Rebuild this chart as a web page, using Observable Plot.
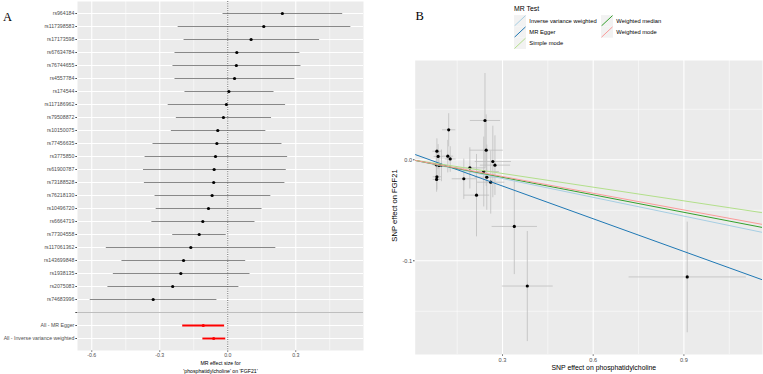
<!DOCTYPE html>
<html>
<head>
<meta charset="utf-8">
<script src="https://cdn.jsdelivr.net/npm/d3@7"></script>
<script src="https://cdn.jsdelivr.net/npm/@observablehq/plot@0.6"></script>
<style>
  html, body { margin: 0; padding: 0; background: #fff; overflow: hidden; }
  #wrap { position: relative; width: 763px; height: 374px; overflow: hidden; font-family: "Liberation Sans", Arial, sans-serif; }
  #wrap > * { position: absolute; top: 0; }
  .tag { font-family: "Liberation Serif", "Times New Roman", serif; font-size: 12.5px; color: #000; line-height: 1; }
</style>
</head>
<body>
<div id="wrap"></div>
<script>
// ---- single-SNP Wald ratio estimates (phosphatidylcholine -> FGF21) ----
const snpIds = [
  "rs964184", "rs117398583", "rs17173598", "rs67634784", "rs76744655", "rs4557784",
  "rs174544", "rs117186962", "rs79508872", "rs10150075", "rs77456635", "rs3775850",
  "rs61900787", "rs73188528", "rs76218130", "rs10496720", "rs6664719", "rs77304558",
  "rs117061362", "rs143699848", "rs1938135", "rs2075083", "rs74683996"
];
const snpBeta = [0.241, 0.159, 0.103, 0.040, 0.038, 0.030, 0.005, -0.006, -0.019, -0.044, -0.048, -0.054,
  -0.060, -0.062, -0.069, -0.085, -0.110, -0.126, -0.163, -0.195, -0.207, -0.243, -0.329];
const snpLo = [-0.023, -0.221, -0.195, -0.235, -0.244, -0.235, -0.191, -0.265, -0.229, -0.251, -0.332, -0.367,
  -0.374, -0.370, -0.323, -0.318, -0.337, -0.245, -0.538, -0.469, -0.507, -0.531, -0.609];
const snpHi = [0.505, 0.541, 0.403, 0.316, 0.321, 0.294, 0.202, 0.253, 0.191, 0.166, 0.237, 0.262,
  0.256, 0.250, 0.188, 0.149, 0.118, -0.009, 0.210, 0.077, 0.096, 0.047, -0.050];

// ---- pooled estimates ----
const summaryLabels = ["All - MR Egger", "All - Inverse variance weighted"];
const summaryBeta = [-0.108, -0.062];
const summaryLo = [-0.201, -0.112];
const summaryHi = [-0.016, -0.011];

// ---- SNP-exposure / SNP-outcome associations (same SNP order) ----
const exposureBeta = [0.122, 0.242, 0.083, 0.087, 0.246, 0.119, 0.127, 0.268, 0.275, 0.192, 0.238, 0.098,
  0.081, 0.090, 0.248, 0.261, 0.172, 0.911, 0.214, 0.339, 0.083, 0.082, 0.382];
const exposureSe = [0.022, 0.050, 0.015, 0.015, 0.055, 0.018, 0.018, 0.060, 0.050, 0.050, 0.050, 0.016,
  0.012, 0.014, 0.040, 0.045, 0.040, 0.194, 0.042, 0.075, 0.014, 0.013, 0.084];
const outcomeBeta = [0.0297, 0.0389, 0.0085, 0.0033, 0.0095, 0.0036, 0.0008, -0.0017, -0.0053, -0.0080, -0.0116, -0.0055,
  -0.0050, -0.0056, -0.0172, -0.0222, -0.0188, -0.116, -0.0350, -0.066, -0.0168, -0.0195, -0.125];
const outcomeSe = [0.0164, 0.047, 0.0127, 0.0122, 0.0354, 0.0161, 0.0127, 0.0354, 0.0295, 0.0204, 0.0346, 0.0157,
  0.0130, 0.0142, 0.0323, 0.0311, 0.0200, 0.0548, 0.0408, 0.0472, 0.0128, 0.0121, 0.0545];

// ---- MR method fits ----
const methodNames = ["Inverse variance weighted", "MR Egger", "Simple mode", "Weighted median", "Weighted mode"];
const methodColors = ["#a6cee3", "#1f78b4", "#b2df8a", "#33a02c", "#fb9a99"];
const methodSlopes = [-0.062, -0.108, -0.0452, -0.0578, -0.0552];
const methodIntercepts = [0, 0.0064, 0, 0, 0];

// ---- axis ticks ----
const forestTicks = [-0.6, -0.3, 0, 0.3];
const forestMinor = [-0.45, -0.15, 0.15, 0.45];
const scatterXTicks = [0.3, 0.6, 0.9];
const scatterXMinor = [0.15, 0.45, 0.75, 1.05];
const scatterYTicks = [-0.1, 0];
const scatterYMinor = [-0.15, -0.05, 0.05];

const fmt1 = d => d.toFixed(1);
const wrap = document.getElementById("wrap");

// ================= Panel A: forest plot =================
const rowOrder = [...snpIds, "", ...summaryLabels];
const snpRows = snpIds.map((id, i) => ({id, b: snpBeta[i], lo: snpLo[i], hi: snpHi[i]}));
const sumRows = summaryLabels.map((id, i) => ({id, b: summaryBeta[i], lo: summaryLo[i], hi: summaryHi[i]}));

const forest = Plot.plot({
  width: 380,
  height: 374,
  marginLeft: 77,
  marginRight: 17,
  marginTop: 1,
  marginBottom: 24,
  style: {background: "transparent", fontFamily: "'Liberation Sans', Arial, sans-serif", fontSize: "5.2px", color: "#4d4d4d"},
  x: {domain: [-0.663, 0.599], ticks: forestTicks, tickFormat: fmt1, tickSize: 1.7, tickPadding: 1.2, label: null},
  y: {type: "point", domain: rowOrder, padding: 0.6, tickSize: 1.7, tickPadding: 1.5, label: null},
  marks: [
    Plot.frame({fill: "#ebebeb", stroke: null}),
    Plot.ruleX(forestMinor, {stroke: "#fff", strokeWidth: 0.55}),
    Plot.ruleX(forestTicks, {stroke: "#fff", strokeWidth: 1.1}),
    Plot.ruleY(rowOrder, {stroke: "#fff", strokeWidth: 1.1}),
    Plot.ruleX([0], {stroke: "#000", strokeWidth: 0.6, strokeDasharray: "1,1.3"}),
    Plot.link(snpRows, {x1: "lo", x2: "hi", y1: "id", y2: "id", stroke: "#555", strokeWidth: 0.7}),
    Plot.link(sumRows, {x1: "lo", x2: "hi", y1: "id", y2: "id", stroke: "#ff0000", strokeWidth: 1.9}),
    Plot.dot(snpRows, {x: "b", y: "id", r: 1.6, fill: "#000", stroke: null}),
    Plot.dot(sumRows, {x: "b", y: "id", r: 1.6, fill: "#ff0000", stroke: null}),
    Plot.ruleY([""], {stroke: "#bebebe", strokeWidth: 1.1}),
    Plot.text(["MR effect size for\n'phosphatidylcholine' on 'FGF21'"], {
      frameAnchor: "bottom", dy: 16, lineAnchor: "middle", lineHeight: 1.55, fill: "#000", fontSize: 5.2
    })
  ]
});
forest.style.left = "0px";
wrap.appendChild(forest);

// ================= Panel B: scatter plot =================
const assoc = snpIds.map((id, i) => ({
  id, bx: exposureBeta[i], sx: exposureSe[i], by: outcomeBeta[i], sy: outcomeSe[i]
}));
const xDomain = [0.0112, 1.160];
const fits = methodNames.map((m, i) => ({
  method: m,
  x1: xDomain[0], y1: methodIntercepts[i] + methodSlopes[i] * xDomain[0],
  x2: xDomain[1], y2: methodIntercepts[i] + methodSlopes[i] * xDomain[1]
}));

const scatter = Plot.plot({
  width: 383,
  height: 374,
  marginLeft: 34.7,
  marginRight: 1,
  marginTop: 60,
  marginBottom: 20,
  style: {background: "transparent", fontFamily: "'Liberation Sans', Arial, sans-serif", fontSize: "5.6px", color: "#4d4d4d"},
  x: {domain: xDomain, ticks: scatterXTicks, tickFormat: fmt1, tickSize: 1.7, tickPadding: 1.4, label: null},
  y: {domain: [-0.1928, 0.0983], ticks: scatterYTicks, tickFormat: fmt1, tickSize: 1.7, tickPadding: 1.4, label: null},
  color: {domain: methodNames, range: methodColors},
  marks: [
    Plot.frame({fill: "#ebebeb", stroke: null}),
    Plot.ruleX(scatterXMinor, {stroke: "#fff", strokeWidth: 0.55}),
    Plot.ruleY(scatterYMinor, {stroke: "#fff", strokeWidth: 0.55}),
    Plot.ruleX(scatterXTicks, {stroke: "#fff", strokeWidth: 1.1}),
    Plot.ruleY(scatterYTicks, {stroke: "#fff", strokeWidth: 1.1}),
    Plot.link(assoc, {x1: "bx", x2: "bx", y1: d => d.by - d.sy, y2: d => d.by + d.sy, stroke: "#bebebe", strokeWidth: 0.8}),
    Plot.link(assoc, {x1: d => d.bx - d.sx, x2: d => d.bx + d.sx, y1: "by", y2: "by", stroke: "#bebebe", strokeWidth: 0.8}),
    Plot.dot(assoc, {x: "bx", y: "by", r: 1.6, fill: "#000", stroke: null}),
    Plot.link(fits, {x1: "x1", y1: "y1", x2: "x2", y2: "y2", stroke: "method", strokeWidth: 1, clip: true}),
    Plot.text(["SNP effect on phosphatidylcholine"], {
      frameAnchor: "bottom", dx: 15, dy: 13.7, lineAnchor: "middle", fill: "#000", fontSize: 6.9
    }),
    Plot.text(["SNP effect on FGF21"], {
      frameAnchor: "left", textAnchor: "middle", dx: -20.7, dy: -2, rotate: -90, lineAnchor: "middle", fill: "#000", fontSize: 7.6
    })
  ]
});
scatter.style.left = "380px";
wrap.appendChild(scatter);

// ================= Legend for panel B =================
const legend = d3.create("svg")
  .attr("width", 200).attr("height", 56)
  .style("left", "505px")
  .style("font-family", "'Liberation Sans', Arial, sans-serif");
const lx = 9, keyW = 12, keyH = 11.3, rowTop = 15.1, colGap = 87;
legend.append("text").attr("x", lx).attr("y", 11).attr("font-size", 6.9).attr("fill", "#000").text("MR Test");
methodNames.forEach((m, i) => {
  const col = Math.floor(i / 3), row = i % 3;
  const x0 = lx + col * colGap, y0 = rowTop + row * keyH;
  const g = legend.append("g").attr("transform", `translate(${x0},${y0})`);
  g.append("rect").attr("width", keyW).attr("height", keyH).attr("fill", "#f2f2f2");
  g.append("line").attr("x1", 0.5).attr("y1", keyH - 0.5).attr("x2", keyW - 0.5).attr("y2", 0.5)
    .attr("stroke", methodColors[i]).attr("stroke-width", 1);
  g.append("text").attr("x", keyW + 3.3).attr("y", keyH / 2).attr("dy", "0.35em")
    .attr("font-size", 5.8).attr("fill", "#000").text(m);
});
wrap.appendChild(legend.node());

// ================= Panel tags =================
for (const [t, x, y] of [["A", 3, 11], ["B", 415.5, 9.5]]) {
  const d = document.createElement("div");
  d.className = "tag";
  d.textContent = t;
  d.style.left = x + "px";
  d.style.top = y + "px";
  wrap.appendChild(d);
}
</script>
</body>
</html>
